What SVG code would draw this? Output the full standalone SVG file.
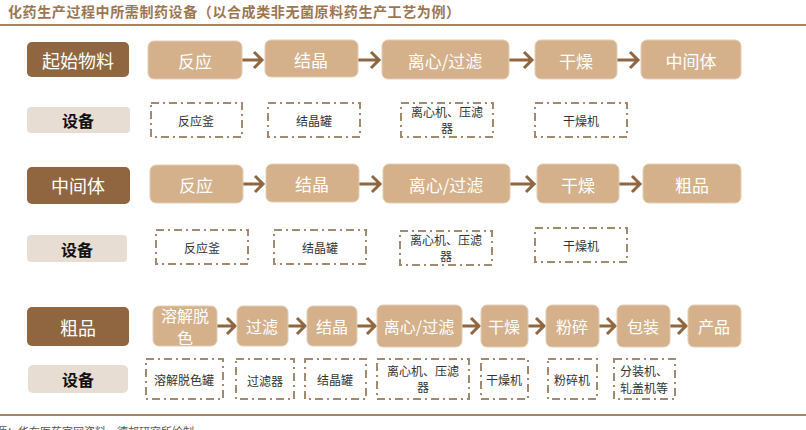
<svg xmlns="http://www.w3.org/2000/svg" width="806" height="430" viewBox="0 0 806 430">
<style>
text{font-family:"Noto Sans CJK SC","Noto Sans",sans-serif;text-anchor:middle;dominant-baseline:central}
.title{fill:#9c7650;font-size:14px;font-weight:bold;text-anchor:start;letter-spacing:0.6px}
.src{fill:#555;font-size:11px;text-anchor:start}
.hl{stroke:#a88462;stroke-width:2}
.lab{fill:#8f663f}
.labt{fill:#fff;font-size:18px}
.eq{fill:#e8ddd2}
.eqt{fill:#111;font-size:16px;font-weight:bold}
.proc{fill:#d4b18b;stroke:#e3cdb3;stroke-width:1}
.pt{fill:#fff;font-size:17px}
.pt3{fill:#fff;font-size:16px}
.dash{fill:none;stroke:#a08a70;stroke-width:2;stroke-dasharray:8 4 2 4}
.dt{fill:#333;font-size:12px}
.arr{fill:none;stroke:#8f663f;stroke-width:3}
</style>
<text class="title" x="8" y="11">化药生产过程中所需制药设备（以合成类非无菌原料药生产工艺为例）</text>
<line class="hl" x1="0" y1="25" x2="806" y2="25"/>
<line class="hl" x1="0" y1="415" x2="806" y2="415"/>
<text class="src" x="-4" y="431">源：华东医药官网资料，德邦研究所绘制</text>

<g id="connectors">
<path class="arr" d="M242 60H262M254 52L262 60L254 68"/>
<path class="arr" d="M358 60H379M371 52L379 60L371 68"/>
<path class="arr" d="M509 60H532M524 52L532 60L524 68"/>
<path class="arr" d="M617 60H638M630 52L638 60L630 68"/>

<path class="arr" d="M243 184H263M255 176L263 184L255 192"/>
<path class="arr" d="M359 184H380M372 176L380 184L372 192"/>
<path class="arr" d="M510 184H534M526 176L534 184L526 192"/>
<path class="arr" d="M619 184H640M632 176L640 184L632 192"/>

<path class="arr" d="M217 326H235M227 318L235 326L227 334"/>
<path class="arr" d="M288 326H305M297 318L305 326L297 334"/>
<path class="arr" d="M357 326H375M367 318L375 326L367 334"/>
<path class="arr" d="M462 326H479M471 318L479 326L471 334"/>
<path class="arr" d="M528 326H544M536 318L544 326L536 334"/>
<path class="arr" d="M599 326H615M607 318L615 326L607 334"/>
<path class="arr" d="M670 326H686M678 318L686 326L678 334"/>
</g>

<g id="row1-label"><rect class="lab" x="27" y="42" width="102" height="35" rx="5"/><text class="labt" x="78" y="60">起始物料</text></g>
<g id="r1-p1"><rect class="proc" x="148" y="41" width="94" height="38" rx="6"/><text class="pt" x="195" y="60">反应</text></g>
<g id="r1-p2"><rect class="proc" x="265" y="40" width="93" height="37" rx="6"/><text class="pt" x="311" y="59">结晶</text></g>
<g id="r1-p3"><rect class="proc" x="382" y="40" width="127" height="39" rx="6"/><text class="pt" x="445" y="60">离心/过滤</text></g>
<g id="r1-p4"><rect class="proc" x="535" y="40" width="82" height="39" rx="6"/><text class="pt" x="576" y="60">干燥</text></g>
<g id="r1-p5"><rect class="proc" x="641" y="40" width="100" height="39" rx="6"/><text class="pt" x="691" y="60">中间体</text></g>

<g id="row1-eq"><rect class="eq" x="27" y="107" width="103" height="26" rx="4"/><text class="eqt" x="78" y="120">设备</text></g>
<g id="r1-e1"><rect class="dash" x="151" y="103" width="91" height="34"/><text class="dt" x="196" y="120">反应釜</text></g>
<g id="r1-e2"><rect class="dash" x="268" y="103" width="92" height="34"/><text class="dt" x="314" y="120">结晶罐</text></g>
<g id="r1-e3"><rect class="dash" x="401" y="103" width="92" height="34"/><text class="dt" x="447" y="111">离心机、压滤</text><text class="dt" x="447" y="127">器</text></g>
<g id="r1-e4"><rect class="dash" x="535" y="103" width="92" height="34"/><text class="dt" x="581" y="120">干燥机</text></g>

<g id="row2-label"><rect class="lab" x="27" y="167" width="103" height="37" rx="5"/><text class="labt" x="78" y="185">中间体</text></g>
<g id="r2-p1"><rect class="proc" x="150" y="165" width="93" height="38" rx="6"/><text class="pt" x="196" y="184">反应</text></g>
<g id="r2-p2"><rect class="proc" x="266" y="164" width="93" height="38" rx="6"/><text class="pt" x="312" y="183">结晶</text></g>
<g id="r2-p3"><rect class="proc" x="383" y="164" width="127" height="39" rx="6"/><text class="pt" x="446" y="184">离心/过滤</text></g>
<g id="r2-p4"><rect class="proc" x="537" y="164" width="82" height="39" rx="6"/><text class="pt" x="578" y="184">干燥</text></g>
<g id="r2-p5"><rect class="proc" x="643" y="164" width="98" height="39" rx="6"/><text class="pt" x="692" y="184">粗品</text></g>

<g id="row2-eq"><rect class="eq" x="27" y="235" width="100" height="27" rx="4"/><text class="eqt" x="77" y="249">设备</text></g>
<g id="r2-e1"><rect class="dash" x="156" y="230" width="92" height="34"/><text class="dt" x="202" y="247">反应釜</text></g>
<g id="r2-e2"><rect class="dash" x="274" y="230" width="92" height="34"/><text class="dt" x="320" y="247">结晶罐</text></g>
<g id="r2-e3"><rect class="dash" x="400" y="231" width="92" height="34"/><text class="dt" x="446" y="239">离心机、压滤</text><text class="dt" x="446" y="255">器</text></g>
<g id="r2-e4"><rect class="dash" x="535" y="228" width="92" height="34"/><text class="dt" x="581" y="245">干燥机</text></g>

<g id="row3-label"><rect class="lab" x="27" y="307" width="102" height="39" rx="5"/><text class="labt" x="78" y="327">粗品</text></g>
<g id="r3-p1"><rect class="proc" x="153" y="306" width="64" height="40" rx="6"/><text class="pt3" x="185" y="315">溶解脱</text><text class="pt3" x="185" y="337">色</text></g>
<g id="r3-p2"><rect class="proc" x="237" y="306" width="51" height="40" rx="6"/><text class="pt3" x="262" y="326">过滤</text></g>
<g id="r3-p3"><rect class="proc" x="307" y="306" width="50" height="40" rx="6"/><text class="pt3" x="332" y="326">结晶</text></g>
<g id="r3-p4"><rect class="proc" x="377" y="305" width="85" height="42" rx="6"/><text class="pt3" x="419" y="326">离心/过滤</text></g>
<g id="r3-p5"><rect class="proc" x="481" y="305" width="47" height="42" rx="6"/><text class="pt3" x="504" y="326">干燥</text></g>
<g id="r3-p6"><rect class="proc" x="546" y="305" width="53" height="42" rx="6"/><text class="pt3" x="572" y="326">粉碎</text></g>
<g id="r3-p7"><rect class="proc" x="617" y="305" width="53" height="42" rx="6"/><text class="pt3" x="643" y="326">包装</text></g>
<g id="r3-p8"><rect class="proc" x="688" y="305" width="53" height="42" rx="6"/><text class="pt3" x="714" y="326">产品</text></g>

<g id="row3-eq"><rect class="eq" x="28" y="365" width="100" height="28" rx="5"/><text class="eqt" x="78" y="379">设备</text></g>
<g id="r3-e1"><rect class="dash" x="146" y="359" width="77" height="40"/><text class="dt" x="184" y="379">溶解脱色罐</text></g>
<g id="r3-e2"><rect class="dash" x="236" y="359" width="58" height="40"/><text class="dt" x="265" y="380">过滤器</text></g>
<g id="r3-e3"><rect class="dash" x="305" y="359" width="61" height="40"/><text class="dt" x="335" y="379">结晶罐</text></g>
<g id="r3-e4"><rect class="dash" x="377" y="359" width="92" height="40"/><text class="dt" x="423" y="370">离心机、压滤</text><text class="dt" x="423" y="386">器</text></g>
<g id="r3-e5"><rect class="dash" x="481" y="359" width="47" height="40"/><text class="dt" x="504" y="379">干燥机</text></g>
<g id="r3-e6"><rect class="dash" x="548" y="359" width="49" height="40"/><text class="dt" x="572" y="379">粉碎机</text></g>
<g id="r3-e7"><rect class="dash" x="614" y="359" width="61" height="40"/><text class="dt" x="644" y="370">分装机、</text><text class="dt" x="644" y="387">轧盖机等</text></g>
</svg>
